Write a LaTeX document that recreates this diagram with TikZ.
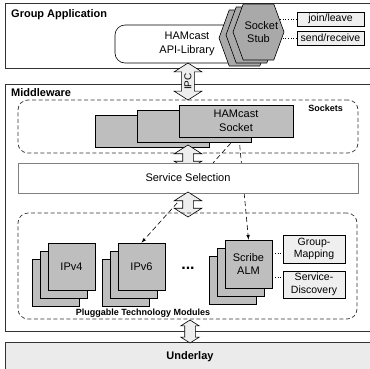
\documentclass[tikz,border=0pt]{standalone}
\usepackage{fontspec}
\setmainfont{Liberation Sans}
\usetikzlibrary{arrows,shapes.arrows,shapes.symbols,shadows,backgrounds}

\definecolor{stackgray}{HTML}{BEBEBE}
\definecolor{stubgray}{HTML}{A9A9A9}
\definecolor{lightbox}{HTML}{EFEFEF}
\definecolor{arrowfill}{HTML}{EEEEEE}
\definecolor{underlaygray}{HTML}{EBEBEB}
\definecolor{framegray}{HTML}{333333}

\tikzset{
  every node/.style={font=\fontsize{11}{13.5}\selectfont},
  layer/.style={draw=framegray, line width=0.9pt, inner sep=0pt},
  title/.style={font=\fontsize{11}{13}\selectfont\bfseries, inner sep=0pt},
  small title/.style={font=\fontsize{9}{11}\selectfont\bfseries, inner sep=0pt},
  region/.style={draw=framegray, line width=0.7pt, dash pattern=on 4pt off 2.5pt, rounded corners=10pt},
  sidebox/.style={draw=black, fill=lightbox, line width=0.6pt, align=center, inner sep=1pt,
    font=\fontsize{10.5}{12.5}\selectfont},
  pile/.style n args={4}{draw=black, fill=stackgray, line width=0.6pt, align=center,
    copy shadow={shadow xshift=#1, shadow yshift=#2, fill=stackgray, draw=black},
    copy shadow={shadow xshift=#3, shadow yshift=#4, fill=stackgray, draw=black}},
  stubhex/.style={signal, signal to=east and west, signal pointer angle=140,
    minimum width=51pt, minimum height=56pt, draw=black, fill=stubgray, line width=0.6pt,
    text width=28pt, align=center, inner sep=0pt,
    copy shadow={shadow xshift=-14pt, shadow yshift=-6pt, fill=stubgray, draw=black},
    copy shadow={shadow xshift=-7pt, shadow yshift=-3pt, fill=stubgray, draw=black}},
  bigarrow/.style={double arrow, rotate=90, draw=black, fill=arrowfill, line width=0.6pt,
    double arrow tip angle=115, inner xsep=0pt},
  link/.style={dash pattern=on 5pt off 3pt, line width=0.6pt, -latex},
  tie/.style={dotted, line width=0.7pt}
}

\begin{document}
\begin{tikzpicture}[x=1pt, y=-1pt]

  \useasboundingbox (0,0) rectangle (370,368);
  \clip (0,0) rectangle (370,368);

  % layers
  \node[layer, anchor=north west, minimum width=380pt, minimum height=65pt] (grp) at (5,3) {};
  \node[layer, anchor=north west, minimum width=380pt, minimum height=247pt] (mid) at (5,84) {};
  \node[layer, fill=underlaygray, anchor=north west, minimum width=380pt, minimum height=40pt] (und) at (5,342) {};
  \node[title, anchor=west] (grp label) at (11,15) {Group Application};
  \node[title, anchor=west] (mid label) at (11,93) {Middleware};
  \node[title] (und label) at (190,357) {Underlay};

  % group application
  \node[draw=black, line width=0.6pt, rounded corners=10pt, minimum width=144pt, minimum height=38pt, align=center] (api) at (187,44) {HAMcast\\API-Library};
  \node[stubhex] (stub) at (258.5,32) {Socket\\Stub};
  \node[sidebox, minimum width=67pt, minimum height=14pt] (join) at (330.5,19) {join/leave};
  \node[sidebox, minimum width=67pt, minimum height=14pt] (send) at (330.5,38) {send/receive};

  \node[bigarrow, minimum height=37pt, inner ysep=2.5pt, double arrow head extend=7.5pt, font=\fontsize{10}{11}\selectfont] (ipc) at (188,81.5) {IPC};

  % sockets
  \node[region, minimum width=340pt, minimum height=53pt] (sockets) at (188,126.5) {};
  \node[small title, anchor=east] (sockets label) at (343,108) {Sockets};
  \node[pile={-84pt}{-10pt}{-42pt}{-5pt}, minimum width=114pt, minimum height=32pt] (sock) at (236,121) {HAMcast\\Socket};

  \node[bigarrow, minimum height=25pt, inner ysep=5pt, double arrow head extend=8.5pt] (sock arrow) at (188,157.5) {};
  \node[draw=gray, fill=white, line width=0.7pt, minimum width=340pt, minimum height=30pt] (sel) at (188,178) {Service Selection};
  \node[bigarrow, minimum height=25pt, inner ysep=5pt, double arrow head extend=8.5pt] (sel arrow) at (188,204.5) {};

  % technology modules
  \node[region, minimum width=339pt, minimum height=106pt] (ptm) at (187.5,266) {};
  \node[small title] (ptm label) at (143,313) {Pluggable Technology Modules};
  \node[pile={-16pt}{-16pt}{-8pt}{-8pt}, minimum size=47pt] (ipv4) at (71.5,266.5) {IPv4};
  \node[pile={-16pt}{-16pt}{-8pt}{-8pt}, minimum size=47pt] (ipv6) at (141.5,266.5) {IPv6};
  \node[font=\fontsize{16}{16}\selectfont\bfseries] (dots) at (188,268) {...};
  \node[pile={-16pt}{-16pt}{-8pt}{-8pt}, minimum width=47pt, minimum height=48pt] (scribe) at (248.5,264) {Scribe\\ALM};
  \node[sidebox, minimum width=62pt, minimum height=28pt] (gmap) at (314,249) {Group-\\Mapping};
  \node[sidebox, minimum width=62pt, minimum height=27pt] (sdisc) at (314,284.5) {Service-\\Discovery};

  \node[bigarrow, minimum height=23pt, inner ysep=5pt, double arrow head extend=4pt] (und arrow) at (190,331.5) {};

  % connectors behind the boxes
  \begin{scope}[on background layer]
    \draw[tie] (join.west) -- (join.west -| stub.center);
    \draw[tie] (send.west) -- (send.west -| stub.center);
    \coordinate (s1) at ([yshift=11pt]scribe.east);
    \coordinate (s2) at ([yshift=-13pt]scribe.east);
    \draw[tie] (s1) -- (s1 -| gmap.west);
    \draw[tie] (s2) -- (s2 -| sdisc.west);
    \draw[link] (sock.south) -- (ipv6.north);
    \draw[link] ([xshift=3pt]sock.south) -- (scribe.north);
  \end{scope}

\end{tikzpicture}
\end{document}
